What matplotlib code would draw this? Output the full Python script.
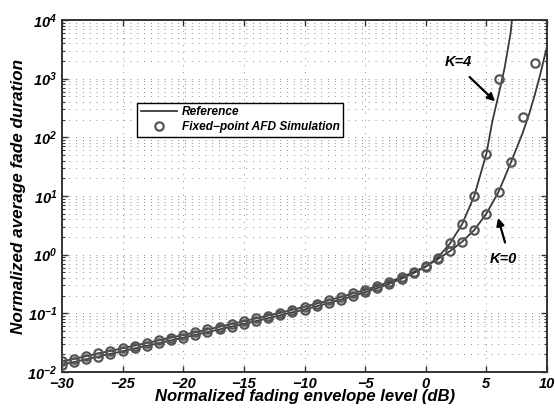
import matplotlib
matplotlib.use("Agg")
import matplotlib.pyplot as plt
from matplotlib.ticker import LogLocator, MultipleLocator, NullFormatter

plt.rcParams['font.family'] = ['Liberation Sans', 'DejaVu Sans']
plt.rcParams['mathtext.default'] = 'regular'

# ---- data ----
ref_x = [-30, -29, -28, -27, -26, -25, -24, -23, -22, -21, -20, -19, -18, -17, -16,
         -15, -14, -13, -12, -11, -10, -9, -8, -7, -6, -5, -4, -3, -2, -1,
         0, 1, 2, 3, 4, 5, 6, 7, 8, 8.5, 9, 9.5, 10]
ref_k0 = [0.0151, 0.0168, 0.0186, 0.0207, 0.0229, 0.0254, 0.0282, 0.0313, 0.0347, 0.0385,
          0.0427, 0.0475, 0.0530, 0.0590, 0.0658, 0.0733, 0.0818, 0.0914, 0.102, 0.115,
          0.129, 0.146, 0.166, 0.190, 0.218, 0.251, 0.292, 0.343, 0.412, 0.504,
          0.631, 0.841, 1.15, 1.66, 2.63, 5.0, 11.7, 36.3, 120, 240, 537, 1320, 3550]

ref4_x = [-30, -29, -28, -27, -26, -25, -24, -23, -22, -21, -20, -19, -18, -17, -16,
          -15, -14, -13, -12, -11, -10, -9, -8, -7, -6, -5, -4, -3, -2, -1,
          0, 1, 2, 3, 4, 4.5, 5, 5.5, 6, 6.5, 7, 7.3]
ref_k4 = [0.0133, 0.0148, 0.0165, 0.0183, 0.0204, 0.0226, 0.0252, 0.0280, 0.0311, 0.0346,
          0.0385, 0.0429, 0.0478, 0.0532, 0.0593, 0.0661, 0.0738, 0.0824, 0.0923, 0.104,
          0.116, 0.132, 0.150, 0.171, 0.197, 0.229, 0.269, 0.320, 0.389, 0.484,
          0.624, 0.891, 1.55, 3.31, 10.0, 22.9, 52.5, 190, 525, 1510, 6030, 25000]

sim0_x = [-30, -29, -28, -27, -26, -25, -24, -23, -22, -21, -20, -19, -18, -17, -16,
          -15, -14, -13, -12, -11, -10, -9, -8, -7, -6, -5, -4, -3, -2, -1,
          0, 1, 2, 3, 4, 5, 6, 7, 8, 9]
sim_k0 = [0.0151, 0.0168, 0.0186, 0.0207, 0.0229, 0.0254, 0.0282, 0.0313, 0.0347, 0.0385,
          0.0427, 0.0475, 0.0530, 0.0590, 0.0658, 0.0733, 0.0818, 0.0914, 0.102, 0.115,
          0.129, 0.146, 0.166, 0.190, 0.218, 0.251, 0.292, 0.343, 0.412, 0.504,
          0.631, 0.841, 1.15, 1.66, 2.63, 5.0, 11.7, 38, 224, 1820]

sim4_x = [-30, -29, -28, -27, -26, -25, -24, -23, -22, -21, -20, -19, -18, -17, -16,
          -15, -14, -13, -12, -11, -10, -9, -8, -7, -6, -5, -4, -3, -2, -1,
          0, 1, 2, 3, 4, 5, 6]
sim_k4 = [0.0133, 0.0148, 0.0165, 0.0183, 0.0204, 0.0226, 0.0252, 0.0280, 0.0311, 0.0346,
          0.0385, 0.0429, 0.0478, 0.0532, 0.0593, 0.0661, 0.0738, 0.0824, 0.0923, 0.104,
          0.116, 0.132, 0.150, 0.171, 0.197, 0.229, 0.269, 0.320, 0.389, 0.484,
          0.624, 0.891, 1.55, 3.31, 10.0, 51, 1000]

xlabel = "Normalized fading envelope level (dB)"
ylabel = "Normalized average fade duration"
legend_labels = ["Reference", "Fixed\u2212point AFD Simulation"]

# ---- figure ----
fig = plt.figure(figsize=(5.55, 4.13), dpi=100)
ax = fig.add_axes([0.1117, 0.0993, 0.8739, 0.8523])

line_c = '#3a3a3a'
mk_c = '#555555'
fkw = dict(fontweight='bold', fontstyle='italic')

ax.plot(ref_x, ref_k0, color=line_c, lw=1.3, label=legend_labels[0], zorder=3)
ax.plot(ref4_x, ref_k4, color=line_c, lw=1.3, zorder=3)
ax.plot(sim0_x, sim_k0, linestyle='none', marker='o', markersize=6, markerfacecolor='none',
        markeredgecolor=mk_c, markeredgewidth=1.6, label=legend_labels[1], zorder=4)
ax.plot(sim4_x, sim_k4, linestyle='none', marker='o', markersize=6, markerfacecolor='none',
        markeredgecolor=mk_c, markeredgewidth=1.6, zorder=4)

ax.set_yscale('log')
ax.set_xlim(-30, 10)
ax.set_ylim(1e-2, 1e4)
ax.xaxis.set_major_locator(MultipleLocator(5))
ax.yaxis.set_major_locator(LogLocator(base=10, numticks=10))
ax.yaxis.set_minor_locator(LogLocator(base=10, subs=range(2, 10), numticks=20))
ax.yaxis.set_minor_formatter(NullFormatter())

ax.grid(True, which='major', axis='both', color='#8a8a8a', lw=0.7, linestyle=(0, (1, 6)))
ax.grid(True, which='minor', axis='y', color='#8a8a8a', lw=0.7, linestyle=(0, (1, 6)))
ax.set_axisbelow(True)

ax.tick_params(which='both', direction='in', top=True, right=True, colors='#333333',
               labelcolor='black', labelsize=10.5)
ax.tick_params(which='major', length=4, width=1)
ax.tick_params(which='minor', length=2.5, width=0.8)
for lab in ax.get_xticklabels() + ax.get_yticklabels():
    lab.set_fontweight('bold')
    lab.set_fontstyle('italic')
for sp in ax.spines.values():
    sp.set_linewidth(1.4)
    sp.set_color('#333333')

ax.set_xlabel(xlabel, fontsize=12, labelpad=-1, **fkw)
ax.set_ylabel(ylabel, fontsize=12.3, labelpad=1, **fkw)

leg = ax.legend(loc='upper left', bbox_to_anchor=(0.155, 0.765), borderaxespad=0,
                numpoints=1, handlelength=3.0, fancybox=False, framealpha=1,
                edgecolor='black', prop=dict(size=8.6, weight='bold', style='italic'),
                borderpad=0.3, labelspacing=0.25, handletextpad=0.45, handleheight=0.9)
leg.get_frame().set_linewidth(1.0)

ax.text(2.65, 1900, "K=4", ha='center', va='center', fontsize=10.5, **fkw)
ax.annotate('', xy=(5.88, 380), xytext=(3.45, 1150),
            arrowprops=dict(arrowstyle='-|>', color='black', lw=1.6, mutation_scale=11))
ax.text(6.4, 0.85, "K=0", ha='center', va='center', fontsize=10.5, **fkw)
ax.annotate('', xy=(5.9, 4.7), xytext=(6.6, 1.45),
            arrowprops=dict(arrowstyle='-|>', color='black', lw=1.6, mutation_scale=11))

fig.savefig('out.png', dpi=100)
